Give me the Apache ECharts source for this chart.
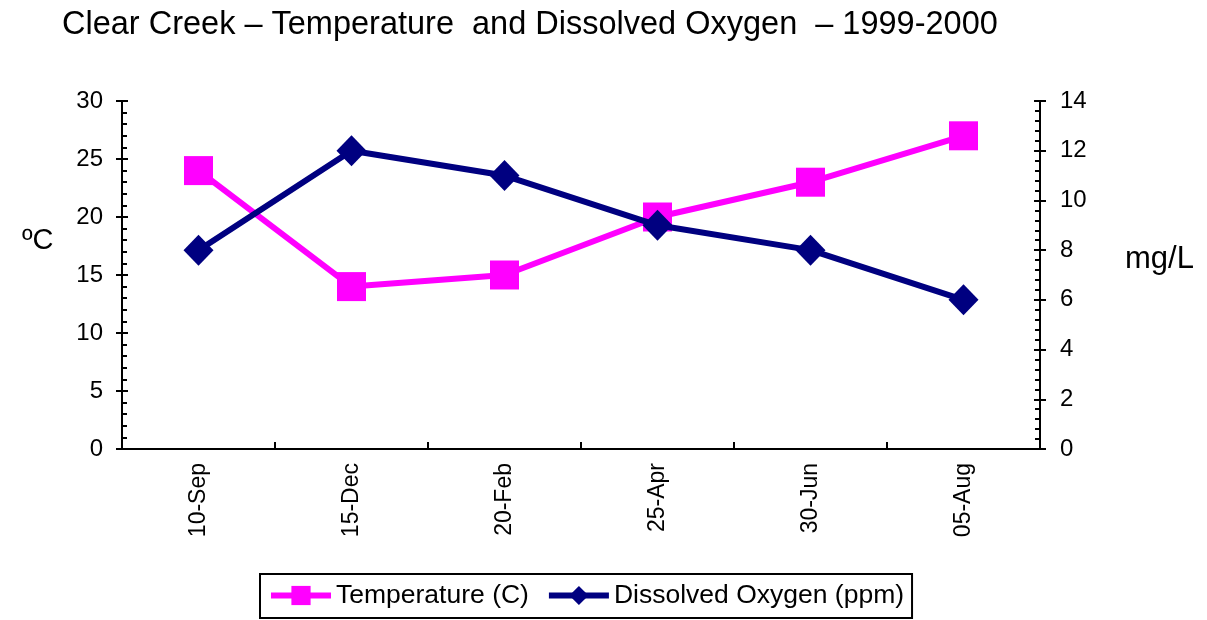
<!DOCTYPE html>
<html>
<head>
<meta charset="utf-8">
<title>Clear Creek – Temperature and Dissolved Oxygen</title>
<script src="https://cdn.jsdelivr.net/npm/echarts@6/dist/echarts.min.js"></script>
<style>
  html, body { margin: 0; padding: 0; background: #ffffff; }
  #chart { width: 1207px; height: 620px; }
</style>
</head>
<body>
<div id="chart"></div>
<script>
// Sampling dates and measured values
const dates = ['10-Sep', '15-Dec', '20-Feb', '25-Apr', '30-Jun', '05-Aug'];
const temperatureC = [24, 14, 15, 20, 23, 27];
const dissolvedOxygen = [8, 12, 11, 9, 8, 6];

// Axis ranges
const tempAxis = { min: 0, max: 30, interval: 5 };
const oxyAxis = { min: 0, max: 14, interval: 2 };

const FONT = '"Liberation Sans", Arial, sans-serif';
const BLACK = '#000000';
const MAGENTA = '#FF00FF';
const NAVY = '#000080';

const chart = echarts.init(document.getElementById('chart'), null, { renderer: 'canvas' });

// Labelled axis with outward major ticks
function labelAxis(range, position, margin) {
  return {
    type: 'value',
    position: position,
    min: range.min,
    max: range.max,
    interval: range.interval,
    axisLine: { show: true, lineStyle: { color: BLACK, width: 2 } },
    axisTick: { show: true, inside: false, length: 6, lineStyle: { color: BLACK, width: 2 } },
    axisLabel: { color: BLACK, fontSize: 24, fontFamily: FONT, margin: margin },
    splitLine: { show: false }
  };
}

// Companion axis carrying the inward major ticks and the minor ticks
function tickAxis(range, position) {
  return {
    type: 'value',
    position: position,
    min: range.min,
    max: range.max,
    interval: range.interval,
    axisLine: { show: true, lineStyle: { color: BLACK, width: 2 } },
    axisTick: { show: true, inside: true, length: 6, lineStyle: { color: BLACK, width: 2 } },
    minorTick: { show: true, splitNumber: 5, length: 5, lineStyle: { color: BLACK, width: 2 } },
    axisLabel: { show: false },
    splitLine: { show: false }
  };
}

const option = {
  backgroundColor: '#ffffff',
  animation: false,
  textStyle: { fontFamily: FONT, color: BLACK },
  title: {
    text: 'Clear Creek – Temperature  and Dissolved Oxygen  – 1999-2000',
    left: 62,
    top: 9,
    padding: 0,
    textStyle: { fontSize: 32.5, fontWeight: 'normal', color: BLACK, fontFamily: FONT }
  },
  grid: { left: 122, right: 167, top: 101, bottom: 171, containLabel: false },
  legend: {
    left: 260,
    top: 574,
    padding: [8, 8, 9, 8],
    borderColor: BLACK,
    borderWidth: 2,
    itemWidth: 60,
    itemHeight: 24,
    itemGap: 17,
    textStyle: { fontSize: 26.5, color: BLACK, fontFamily: FONT },
    data: [
      { name: 'Temperature (C)', lineStyle: { width: 6, color: MAGENTA } },
      { name: 'Dissolved Oxygen (ppm)', lineStyle: { width: 6, color: NAVY } }
    ]
  },
  xAxis: {
    type: 'category',
    data: dates,
    boundaryGap: true,
    axisLine: { show: true, lineStyle: { color: BLACK, width: 2 } },
    axisTick: { show: true, inside: true, length: 7, lineStyle: { color: BLACK, width: 2 } },
    axisLabel: { color: BLACK, fontSize: 23, fontFamily: FONT, rotate: 90, margin: 14 },
    splitLine: { show: false }
  },
  yAxis: [
    labelAxis(tempAxis, 'left', 19),
    labelAxis(oxyAxis, 'right', 20),
    tickAxis(tempAxis, 'left'),
    tickAxis(oxyAxis, 'right')
  ],
  graphic: [
    {
      type: 'text', left: 22, top: 226,
      style: { text: 'ºC', fontSize: 29, fontFamily: FONT, fill: BLACK }
    },
    {
      type: 'text', left: 1125, top: 244,
      style: { text: 'mg/L', fontSize: 31, fontFamily: FONT, fill: BLACK }
    }
  ],
  series: [
    {
      name: 'Temperature (C)',
      type: 'line',
      yAxisIndex: 0,
      data: temperatureC,
      symbol: 'rect',
      symbolSize: 29,
      lineStyle: { color: MAGENTA, width: 6 },
      itemStyle: { color: MAGENTA },
      z: 2
    },
    {
      name: 'Dissolved Oxygen (ppm)',
      type: 'line',
      yAxisIndex: 1,
      data: dissolvedOxygen,
      symbol: 'diamond',
      symbolSize: [30, 31],
      lineStyle: { color: NAVY, width: 6 },
      itemStyle: { color: NAVY },
      z: 3
    }
  ]
};

chart.setOption(option);
</script>
</body>
</html>
